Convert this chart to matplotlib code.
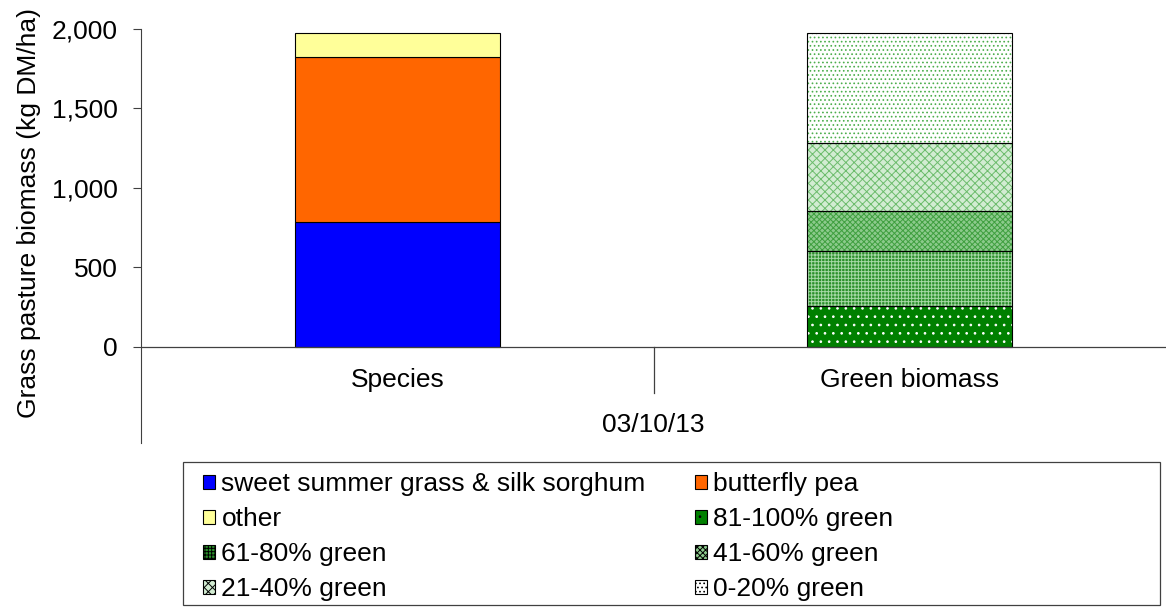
import matplotlib.pyplot as plt
from matplotlib.patches import Patch, Rectangle

plt.rcParams["font.family"] = ["Liberation Sans", "DejaVu Sans"]
plt.rcParams["hatch.linewidth"] = 0.7

categories = ["Species", "Green biomass"]
group_label = "03/10/13"

species_labels = ["sweet summer grass & silk sorghum", "butterfly pea", "other"]
species_values = [785, 1040, 150]
species_colors = ["#0000ff", "#ff6600", "#ffff99"]

green_labels = ["81-100% green", "61-80% green", "41-60% green", "21-40% green", "0-20% green"]
green_values = [258, 346, 251, 428, 692]
green_faces = ["#008000", "#2a8f2a", "#8cca8c", "#d2ecd2", "#ffffff"]
green_hatch_colors = ["#ffffff", "#a6d8a6", "#3f9f3f", "#6cbc6c", "#4cae4c"]
green_hatches = ["..", "+++++", "xxxxxx", "xxxx", "...."]

FS = 19
W, H = 1166, 608
fig = plt.figure(figsize=(W / 100, H / 100), dpi=100)
ax = fig.add_axes([141 / W, 1 - 443 / H, (1166 - 141) / W, (443 - 29) / H])

x = [0, 1]
width = 0.4
axis_col = "#404040"

# species stack
bottom = 0
for val, col in zip(species_values, species_colors):
    ax.bar(x[0], val, width, bottom=bottom, color=col, edgecolor="black", linewidth=0.8, zorder=3)
    bottom += val

# green biomass stack: fill, hatch, then outline
bottom = 0
for val, face, hc, hatch in zip(green_values, green_faces, green_hatch_colors, green_hatches):
    ax.bar(x[1], val, width, bottom=bottom, color=face, linewidth=0, zorder=2)
    ax.bar(x[1], val, width, bottom=bottom, facecolor="none", edgecolor=hc, hatch=hatch,
           linewidth=0, zorder=3)
    ax.bar(x[1], val, width, bottom=bottom, facecolor="none", edgecolor="black",
           linewidth=0.8, zorder=4)
    bottom += val

ymin = -604
ax.set_ylim(ymin, 2000)
ax.set_xlim(-0.5, 1.5)
ax.set_yticks([0, 500, 1000, 1500, 2000])
ax.set_yticklabels(["0", "500", "1,000", "1,500", "2,000"])
ax.tick_params(axis="y", labelsize=FS, direction="out", length=6, color=axis_col, pad=11)
ax.set_xticks([])
for s in ["top", "right", "bottom"]:
    ax.spines[s].set_visible(False)
ax.spines["left"].set_color(axis_col)
ax.axhline(0, color=axis_col, linewidth=0.9, zorder=5)
zero_frac = -ymin / (2000 - ymin)
ax.axvline(0.5, ymin=zero_frac - 0.11, ymax=zero_frac, color=axis_col, linewidth=0.9)

for xi, cat in zip(x, categories):
    ax.text(xi, -207, cat, ha="center", va="center", fontsize=FS)
ax.text(0.5, -490, group_label, ha="center", va="center", fontsize=FS)

ax.set_ylabel("Grass pasture biomass (kg DM/ha)", fontsize=FS)
ax.yaxis.set_label_coords(-0.098, 0.555)

# legend, filled row by row as in the reference
sp = [Patch(facecolor=c, edgecolor="black", linewidth=0.8, label=l)
      for c, l in zip(species_colors, species_labels)]
gr = [Patch(facecolor=f, edgecolor="black", hatch=h, linewidth=0.8, label=l)
      for f, h, l in zip(green_faces, green_hatches, green_labels)]
col1 = [sp[0], sp[2], gr[1], gr[3]]
col2 = [sp[1], gr[0], gr[2], gr[4]]
fig.patches.append(Rectangle((183 / W, 1 - 605 / H), (1160 - 183) / W, (605 - 462) / H,
                             transform=fig.transFigure, facecolor="white",
                             edgecolor=axis_col, linewidth=0.9))
leg = fig.legend(handles=col1 + col2, ncol=2, loc="upper left",
                 bbox_to_anchor=(203 / W, 1 - 472 / H), frameon=False,
                 fontsize=FS, handlelength=0.45, handleheight=0.45,
                 handletextpad=0.25, labelspacing=0.42, columnspacing=1.86,
                 borderpad=0, borderaxespad=0)

fig.savefig("out.png", dpi=100)
